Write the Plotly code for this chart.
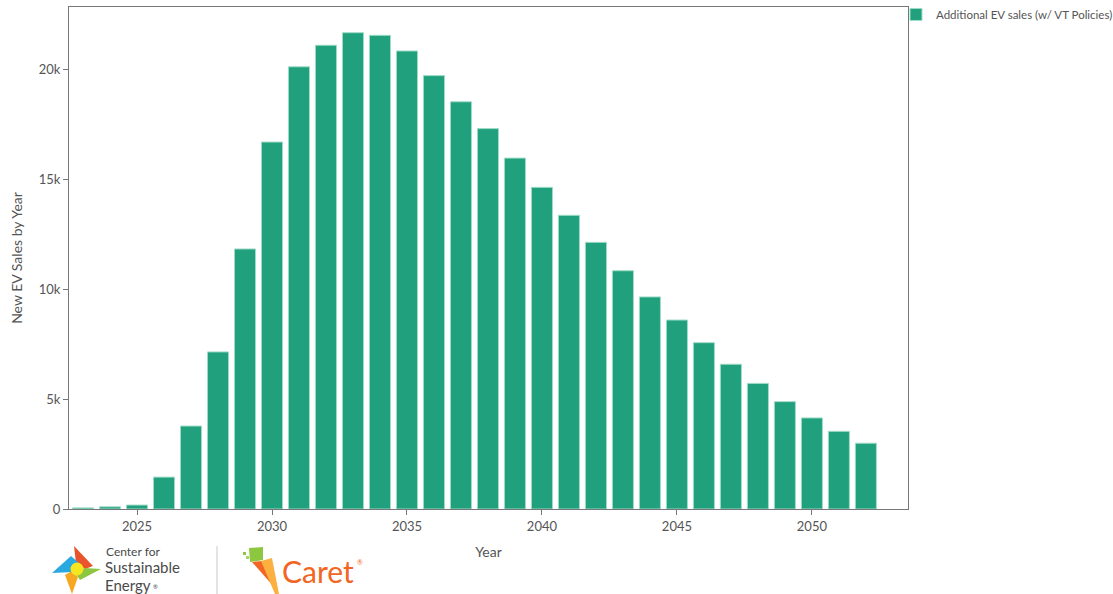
import plotly.graph_objects as go

years = list(range(2023, 2053))
ev_sales = [50, 100, 180, 1450, 3770, 7140, 11820, 16680, 20100, 21080, 21650, 21530,
            20820, 19700, 18510, 17290, 15950, 14620, 13350, 12120, 10830, 9640,
            8590, 7560, 6580, 5710, 4880, 4140, 3530, 2990]
series_name = "Additional EV sales (w/ VT Policies)"
tick_years = [2025, 2030, 2035, 2040, 2045, 2050]
tick_vals = [0, 5000, 10000, 15000, 20000]
tick_text = ["0", "5k", "10k", "15k", "20k"]

W, H = 1113, 594
L, R, T, B = 69, 908, 7, 509
FONT = "Lato, 'Open Sans', sans-serif"
GREY = "#555555"

fig = go.Figure()
fig.add_trace(go.Bar(
    x=years, y=ev_sales, name=series_name,
    marker=dict(color="#21a07e", line=dict(color="#9fdcc6", width=1)),
    showlegend=True,
))


def px(x, y):
    """Pixel position on the page -> paper coordinates of the plot area."""
    return (x - L) / (R - L), (B - y) / (B - T)


def poly(points, color):
    pts = [px(x, y) for x, y in points]
    path = "M " + " L ".join(f"{a:.5f},{b:.5f}" for a, b in pts) + " Z"
    return dict(type="path", xref="paper", yref="paper", path=path,
                fillcolor=color, line=dict(width=0), layer="above")


def circle(cx, cy, r, color):
    x0, y0 = px(cx - r, cy + r)
    x1, y1 = px(cx + r, cy - r)
    return dict(type="circle", xref="paper", yref="paper", x0=x0, y0=y0, x1=x1, y1=y1,
                fillcolor=color, line=dict(width=0), layer="above")


def label(txt, x, y, size, color):
    ax, ay = px(x, y)
    return dict(text=txt, x=ax, y=ay, xref="paper", yref="paper",
                xanchor="left", yanchor="middle", showarrow=False, borderpad=0,
                font=dict(family=FONT, size=size, color=color))


d0, d1 = px(217, 546), px(217, 594)
shapes = [
    # pinwheel blades
    poly([(74, 546), (93, 566), (85, 569), (76, 563)], "#e8542b"),
    poly([(52, 573), (71, 556), (79, 563), (73, 572)], "#2aa9e0"),
    poly([(101, 569), (80, 580), (76, 574), (84, 568)], "#8dc63f"),
    poly([(72, 594), (65, 575), (72, 571), (78, 577)], "#f7a823"),
    circle(77, 569, 6.5, "#f5e61f"),
    # divider
    dict(type="line", xref="paper", yref="paper", x0=d0[0], y0=d0[1], x1=d1[0], y1=d1[1],
         line=dict(color="#c8c8c8", width=1)),
    # caret mark
    poly([(249, 548), (263, 547), (263, 560), (250, 562)], "#8dc63f"),
    poly([(243, 552), (246, 552), (246, 555), (243, 555)], "#8dc63f"),
    poly([(246, 556), (249, 556), (249, 559), (246, 559)], "#a6d36a"),
    poly([(252, 562), (262, 561), (275, 588)], "#f26522"),
    poly([(261, 561), (272, 558), (279, 594), (275, 594)], "#fbb040"),
]

annotations = [
    label("Center for", 105, 551, 12, "#4a4a4a"),
    label("Sustainable", 104, 567, 15, "#4a4a4a"),
    label("Energy", 104, 585, 15, "#4a4a4a"),
    label("®", 152, 586, 6, "#4a4a4a"),
    label("Caret", 281, 571, 30, "#f26522"),
    label("®", 356, 562, 7, "#f26522"),
]

fig.update_layout(
    width=W, height=H,
    margin=dict(l=L, r=W - R, t=T, b=H - B, pad=0, autoexpand=False),
    paper_bgcolor="white", plot_bgcolor="white",
    font=dict(family=FONT, size=13, color=GREY),
    bargap=0.22,
    shapes=shapes,
    annotations=annotations,
    legend=dict(x=0.9857, y=1.014, xanchor="left", yanchor="top",
                font=dict(family=FONT, size=11.5, color=GREY),
                bgcolor="rgba(0,0,0,0)"),
    xaxis=dict(
        range=[2022.48, 2053.56], tickvals=tick_years, ticks="outside", ticklen=5,
        tickcolor="#777", showline=True, linecolor="#777", mirror=True,
        showgrid=False, zeroline=False,
        title=dict(text="Year", font=dict(size=14, color=GREY), standoff=14),
    ),
    yaxis=dict(
        range=[0, 22818], tickvals=tick_vals, ticktext=tick_text, ticks="outside",
        ticklen=5, tickcolor="#777", showline=True, linecolor="#777", mirror=True,
        showgrid=False, zeroline=False,
        title=dict(text="New EV Sales by Year", font=dict(size=14, color=GREY), standoff=12),
    ),
)

fig.write_html("out.html")
